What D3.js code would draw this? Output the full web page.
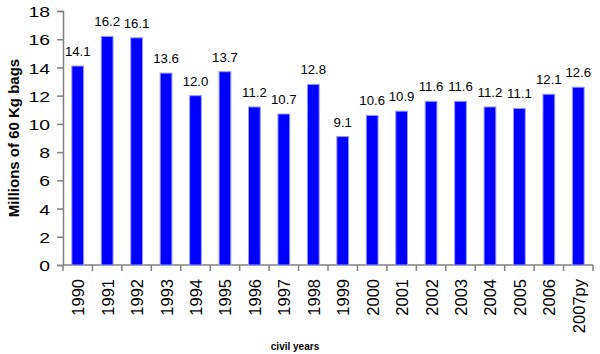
<!DOCTYPE html>
<html>
<head>
<meta charset="utf-8">
<script src="https://cdn.jsdelivr.net/npm/d3@7/dist/d3.min.js"></script>
<style>
body { margin: 0; background: #fff; }
text { font-family: "Liberation Sans", Arial, sans-serif; }
</style>
</head>
<body>
<div id="chart"></div>
<script>
const years = ["1990", "1991", "1992", "1993", "1994", "1995", "1996", "1997", "1998", "1999",
	"2000", "2001", "2002", "2003", "2004", "2005", "2006", "2007py"]
const production = [14.1, 16.2, 16.1, 13.6, 12.0, 13.7, 11.2, 10.7, 12.8, 9.1,
	10.6, 10.9, 11.6, 11.6, 11.2, 11.1, 12.1, 12.6]
const yTicks = [0, 2, 4, 6, 8, 10, 12, 14, 16, 18]

const params = { width: 600, height: 354, left: 63, right: 593, top: 11, bottom: 265 }

const svg = d3.select("#chart").append("svg")
	.attr("width", params.width)
	.attr("height", params.height)

const xScale = d3.scaleBand()
	.domain(years)
	.range([params.left, params.right])
	.paddingInner(0.6)
	.paddingOuter(0.3)

const yScale = d3.scaleLinear()
	.domain([0, 18])
	.range([params.bottom, params.top])

// y axis
const yAxis = svg.append("g")
	.attr("transform", `translate(${params.left}, 0)`)
	.call(d3.axisLeft(yScale).tickValues(yTicks).tickSize(6).tickPadding(4))
yAxis.select(".domain").attr("stroke", "#808080").attr("stroke-width", 1.5)
yAxis.selectAll(".tick line").attr("stroke", "#808080").attr("stroke-width", 1.5)
// the original labels are drawn a little wide
yAxis.selectAll(".tick text")
	.attr("font-size", 15.5)
	.attr("fill", "#000")
	.attr("x", -13 / 1.25)
	.attr("dy", "0.36em")
	.attr("transform", "scale(1.25,1)")

// x axis: ticks sit between categories
const step = xScale.step()
const xAxis = svg.append("g")
xAxis.append("line")
	.attr("x1", params.left).attr("x2", params.right)
	.attr("y1", params.bottom).attr("y2", params.bottom)
	.attr("stroke", "#808080").attr("stroke-width", 1.5)
xAxis.selectAll(".xtick")
	.data(d3.range(years.length + 1))
	.join("line")
	.attr("class", "xtick")
	.attr("x1", i => params.left + i * step)
	.attr("x2", i => params.left + i * step)
	.attr("y1", params.bottom)
	.attr("y2", params.bottom + 6)
	.attr("stroke", "#808080").attr("stroke-width", 1.5)
xAxis.selectAll(".xlabel")
	.data(years)
	.join("text")
	.attr("class", "xlabel")
	.attr("font-size", 16.5)
	.attr("text-anchor", "end")
	.attr("transform", d => `translate(${xScale(d) + xScale.bandwidth() / 2 + 6.5}, ${params.bottom + 14}) rotate(-90)`)
	.text(d => d)

// bars
svg.append("g")
	.selectAll("rect")
	.data(production)
	.join("rect")
	.attr("x", (d, i) => xScale(years[i]))
	.attr("y", d => yScale(d))
	.attr("width", xScale.bandwidth())
	.attr("height", d => params.bottom - yScale(d))
	.attr("fill", "#0000ff")
	.attr("stroke", "#9a9aff")
	.attr("stroke-width", 1)

// value labels
svg.append("g")
	.selectAll("text")
	.data(production)
	.join("text")
	.attr("transform", (d, i) => `translate(${xScale(years[i]) + xScale.bandwidth() / 2}, ${yScale(d) - 10}) scale(1.1,1)`)
	.attr("text-anchor", "middle")
	.attr("font-size", 12)
	.text(d => d.toFixed(1))

// titles
svg.append("text")
	.attr("transform", "translate(19, 138) rotate(-90)")
	.attr("text-anchor", "middle")
	.attr("font-size", 15)
	.attr("font-weight", "bold")
	.text("Millions of 60 Kg bags")

svg.append("text")
	.attr("x", 295)
	.attr("y", 350)
	.attr("text-anchor", "middle")
	.attr("font-size", 10)
	.attr("font-weight", "bold")
	.text("civil years")
</script>
</body>
</html>
